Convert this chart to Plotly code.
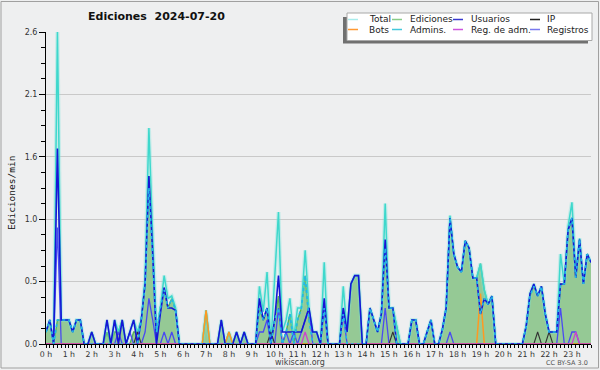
import plotly.graph_objects as go

# ---------------- data (10-minute bins, edits per minute) ----------------
bin_minutes = list(range(0, 1440, 10))          # 00:00 ... 23:50
hour_ticks = list(range(24))
hour_labels = [f"{h} h" for h in hour_ticks]

y_tickvals = [0, 0.52, 1.04, 1.56, 2.08, 2.6]
y_ticktext = ["0.0", "0.5", "1.0", "1.6", "2.1", "2.6"]

total = [
    0.1, 0.2, 0, 2.6, 0.2, 0.2, 0.2, 0.1, 0.2, 0.2, 0, 0,
    0.1, 0, 0, 0, 0.2, 0, 0.2, 0.1, 0.2, 0, 0.1, 0.2,
    0.1, 0.2, 0.55, 1.8, 0.9, 0.1, 0.3, 0.57, 0.38, 0.4, 0.3, 0,
    0, 0, 0, 0, 0, 0, 0.28, 0, 0, 0, 0.2, 0,
    0.1, 0, 0.1, 0, 0.1, 0, 0, 0, 0.48, 0.27, 0.6, 0,
    0.55, 1.1, 0.1, 0.2, 0.38, 0.05, 0.3, 0.3, 0.78, 0.3, 0.1, 0.1,
    0, 0.68, 0, 0, 0, 0, 0.48, 0.1, 0.5, 0.57, 0.57, 0,
    0, 0.3, 0.2, 0.1, 0.25, 1.17, 0.3, 0.3, 0.15, 0, 0, 0,
    0.2, 0.2, 0, 0, 0.1, 0.2, 0, 0, 0.12, 0.3, 1.07, 0.75,
    0.64, 0.6, 0.86, 0.8, 0.55, 0.55, 0.67, 0.45, 0.33, 0.4, 0, 0,
    0, 0, 0, 0, 0, 0, 0.15, 0.42, 0.5, 0.4, 0.48, 0.25,
    0.1, 0.1, 0.1, 0.75, 0.5, 0.98, 1.18, 0.6, 0.88, 0.5, 0.75, 0.68,
]
ediciones = [
    0.1, 0.2, 0, 0.2, 0.2, 0.2, 0.2, 0.1, 0.2, 0.2, 0, 0,
    0.1, 0, 0, 0, 0.1, 0, 0.1, 0.1, 0.2, 0, 0, 0.1,
    0.1, 0.2, 0.5, 1.4, 0.8, 0.1, 0.3, 0.47, 0.3, 0.38, 0.28, 0,
    0, 0, 0, 0, 0, 0, 0.28, 0, 0, 0, 0.2, 0,
    0.1, 0, 0.1, 0, 0.1, 0, 0, 0, 0.3, 0.2, 0.3, 0,
    0.2, 0.4, 0, 0.1, 0.25, 0, 0.2, 0.3, 0.57, 0.2, 0.1, 0.1,
    0, 0.3, 0, 0, 0, 0, 0.3, 0.1, 0.5, 0.57, 0.57, 0,
    0, 0.3, 0.2, 0.1, 0.25, 0.8, 0.3, 0.3, 0.15, 0, 0, 0,
    0.2, 0.2, 0, 0, 0.1, 0.2, 0, 0, 0.12, 0.3, 1.05, 0.75,
    0.64, 0.6, 0.86, 0.8, 0.55, 0.55, 0.67, 0.45, 0.33, 0.4, 0, 0,
    0, 0, 0, 0, 0, 0, 0.15, 0.4, 0.48, 0.4, 0.48, 0.25,
    0.1, 0.1, 0.1, 0.5, 0.5, 0.95, 1.05, 0.55, 0.87, 0.5, 0.75, 0.68,
]
usuarios = [
    0.1, 0.2, 0, 1.63, 0.2, 0.2, 0.2, 0.1, 0.2, 0.2, 0, 0,
    0.1, 0, 0, 0, 0.2, 0, 0.2, 0, 0.2, 0, 0.1, 0.2,
    0, 0.2, 0.5, 1.4, 0.75, 0, 0.25, 0.47, 0.3, 0.3, 0.28, 0,
    0, 0, 0, 0, 0, 0, 0, 0, 0, 0, 0.2, 0,
    0, 0, 0.1, 0, 0.1, 0, 0, 0, 0.38, 0.2, 0.3, 0,
    0.2, 0.57, 0.1, 0.1, 0.1, 0.1, 0.1, 0.1, 0.2, 0.3, 0.1, 0.1,
    0, 0.38, 0, 0, 0, 0, 0.3, 0.1, 0.5, 0.57, 0.57, 0,
    0, 0.3, 0.2, 0.1, 0.25, 0.87, 0.3, 0.3, 0, 0, 0, 0,
    0.2, 0.2, 0, 0, 0.1, 0.2, 0, 0, 0.12, 0.3, 1.05, 0.75,
    0.64, 0.6, 0.86, 0.8, 0.55, 0.55, 0.25, 0.38, 0.33, 0.4, 0, 0,
    0, 0, 0, 0, 0, 0, 0.15, 0.42, 0.5, 0.4, 0.48, 0.25,
    0.1, 0.1, 0.1, 0.5, 0.5, 0.95, 1.05, 0.55, 0.87, 0.5, 0.75, 0.68,
]
admins = [
    0.1, 0.2, 0, 0.2, 0.2, 0.2, 0.2, 0.1, 0.2, 0.2, 0, 0,
    0, 0, 0, 0, 0, 0, 0, 0, 0, 0, 0, 0,
    0, 0.2, 0.5, 1.3, 0.75, 0.1, 0.3, 0.45, 0.3, 0.38, 0.28, 0,
    0, 0, 0, 0, 0, 0, 0, 0, 0, 0, 0, 0,
    0, 0, 0, 0, 0, 0, 0, 0, 0.3, 0.2, 0.3, 0,
    0.2, 0.3, 0, 0.1, 0.25, 0, 0.2, 0.3, 0.57, 0.2, 0, 0,
    0, 0.3, 0, 0, 0, 0, 0.25, 0, 0, 0, 0, 0,
    0, 0.3, 0.2, 0.1, 0.25, 0.8, 0.3, 0.3, 0, 0, 0, 0,
    0.2, 0.2, 0, 0, 0.1, 0.2, 0, 0, 0.12, 0.3, 1.05, 0.75,
    0.64, 0.6, 0.86, 0.8, 0.55, 0.55, 0.25, 0.38, 0.33, 0.4, 0, 0,
    0, 0, 0, 0, 0, 0, 0.15, 0.4, 0.48, 0.4, 0.48, 0.25,
    0.1, 0.1, 0.1, 0.5, 0.5, 0.95, 1.05, 0.55, 0.87, 0.5, 0.75, 0.68,
]
registros = [
    0, 0, 0, 0.97, 0, 0, 0, 0, 0, 0, 0, 0,
    0, 0, 0, 0, 0, 0, 0, 0.1, 0, 0, 0.1, 0,
    0, 0, 0.1, 0.38, 0.2, 0, 0, 0.1, 0, 0.1, 0, 0,
    0, 0, 0, 0, 0, 0, 0, 0, 0, 0, 0, 0,
    0, 0, 0, 0, 0, 0, 0, 0, 0.1, 0.1, 0.2, 0,
    0, 0.3, 0, 0.1, 0, 0.1, 0, 0.1, 0.2, 0.3, 0, 0,
    0, 0.3, 0, 0, 0, 0, 0.25, 0, 0, 0, 0, 0,
    0, 0, 0, 0, 0, 0.3, 0, 0, 0, 0, 0, 0,
    0, 0, 0, 0, 0, 0, 0, 0, 0, 0, 0.1, 0,
    0, 0, 0, 0, 0, 0, 0, 0, 0, 0, 0, 0,
    0, 0, 0, 0, 0, 0, 0, 0, 0, 0, 0, 0,
    0, 0, 0, 0.3, 0, 0, 0.1, 0.1, 0, 0, 0, 0,
]
ip = [
    0, 0, 0, 0, 0, 0, 0, 0, 0, 0, 0, 0,
    0, 0, 0, 0, 0, 0, 0, 0, 0, 0, 0, 0,
    0.1, 0, 0, 0, 0, 0, 0, 0, 0, 0, 0, 0,
    0, 0, 0, 0, 0, 0, 0, 0, 0, 0, 0, 0,
    0, 0, 0, 0, 0, 0, 0, 0, 0, 0, 0, 0.1,
    0, 0, 0, 0, 0, 0, 0, 0, 0, 0, 0, 0,
    0, 0, 0, 0, 0, 0, 0, 0, 0, 0, 0, 0,
    0, 0, 0, 0, 0, 0, 0, 0.1, 0, 0, 0, 0,
    0, 0, 0, 0, 0, 0, 0, 0, 0, 0, 0, 0,
    0, 0, 0, 0, 0, 0, 0, 0, 0, 0, 0, 0,
    0, 0, 0, 0, 0, 0, 0, 0, 0, 0.1, 0, 0,
    0.1, 0, 0, 0, 0, 0, 0, 0, 0, 0, 0, 0,
]
bots_points = {42: 0.28, 48: 0.1, 114: 0.42}
reg_adm_points = {68: 0.1, 139: 0.1}

legend_labels = ["Total", "Ediciones", "Usuarios", "IP",
                 "Bots", "Admins.", "Reg. de adm.", "Registros"]
legend_colors = ["#a8ecec", "#88cc88", "#3838d0", "#222222",
                 "#ff9933", "#44c8dc", "#cc55dd", "#7a7aee"]

# ---------------- figure ----------------
bots = [bots_points.get(i, 0) for i in range(len(bin_minutes))]
reg_adm = [reg_adm_points.get(i, 0) for i in range(len(bin_minutes))]

x = [m / 60 for m in bin_minutes]

W, H = 600, 370
ML, MR, MT, MB = 46, 9, 32, 26
PW, PH = W - ML - MR, H - MT - MB


def px(v):
    return (v - ML) / PW


def py(v):
    return (H - MB - v) / PH


fig = go.Figure()
fig.add_trace(go.Scatter(x=x, y=ediciones, name="Ediciones", mode="lines",
                         fill="tozeroy", fillcolor="#95c995",
                         line=dict(color="#55b455", width=1.4)))
fig.add_trace(go.Scatter(x=x, y=total, name="Total halo", mode="lines",
                         line=dict(color="rgba(120,230,220,0.35)", width=4),
                         hoverinfo="skip"))
fig.add_trace(go.Scatter(x=x, y=total, name="Total", mode="lines",
                         line=dict(color="#3ed8cc", width=1.5)))
fig.add_trace(go.Scatter(x=x, y=registros, name="Registros", mode="lines",
                         line=dict(color="#4a4af2", width=1.3)))
fig.add_trace(go.Scatter(x=x, y=ip, name="IP", mode="lines",
                         line=dict(color="#333333", width=1.1)))
fig.add_trace(go.Scatter(x=x, y=bots, name="Bots", mode="lines",
                         line=dict(color="#ff9922", width=1.5)))
fig.add_trace(go.Scatter(x=x, y=reg_adm, name="Reg. de adm.", mode="lines",
                         line=dict(color="#cc44cc", width=1.3)))
fig.add_trace(go.Scatter(x=x, y=usuarios, name="Usuarios", mode="lines",
                         line=dict(color="#1616d6", width=1.6)))
fig.add_trace(go.Scatter(x=x, y=admins, name="Admins.", mode="lines",
                         line=dict(color="#22b8e6", width=1.7, dash="3px,3px")))

shapes = []
annotations = []

# outer frame
shapes.append(dict(type="rect", xref="paper", yref="paper",
                   x0=px(1), x1=px(598.5), y0=py(1.5), y1=py(368),
                   line=dict(color="#a0a0a0", width=1), layer="below"))

# legend box with shadow
shapes.append(dict(type="rect", xref="paper", yref="paper",
                   x0=px(343), x1=px(588), y0=py(17), y1=py(43.5),
                   fillcolor="#707070", line=dict(width=0)))
shapes.append(dict(type="rect", xref="paper", yref="paper",
                   x0=px(347), x1=px(592), y0=py(13), y1=py(40.5),
                   fillcolor="white", line=dict(color="#a8a8a8", width=1)))
swatch_x = [348, 392, 453, 530]
text_x = [367, 408, 469, 545]
row_y = [19.5, 29.5]
for idx, (lab, col) in enumerate(zip(legend_labels, legend_colors)):
    r, c = divmod(idx, 4)
    shapes.append(dict(type="line", xref="paper", yref="paper",
                       x0=px(swatch_x[c]), x1=px(swatch_x[c] + 10),
                       y0=py(row_y[r]), y1=py(row_y[r]),
                       line=dict(color=col, width=1.5)))
    annotations.append(dict(text=lab, xref="paper", yref="paper",
                            x=px(text_x[c]), y=py(row_y[r]),
                            xanchor="left", yanchor="middle", showarrow=False,
                            font=dict(family="DejaVu Sans", size=9, color="#222")))

# title
annotations.append(dict(text="<b>Ediciones  2024-07-20</b>", xref="paper", yref="paper",
                        x=px(86), y=py(17), xanchor="left", yanchor="middle",
                        showarrow=False,
                        font=dict(family="DejaVu Sans", size=11, color="#111")))
# y-axis title
annotations.append(dict(text="Ediciones/min", xref="paper", yref="paper",
                        x=px(12), y=py(193), xanchor="center", yanchor="middle",
                        textangle=-90, showarrow=False,
                        font=dict(family="DejaVu Sans Mono", size=9.5, color="#111")))
# footer
annotations.append(dict(text="wikiscan.org", xref="paper", yref="paper",
                        x=px(300), y=py(362), xanchor="center", yanchor="middle",
                        showarrow=False,
                        font=dict(family="DejaVu Sans", size=8, color="#444")))
annotations.append(dict(text="CC BY-SA 3.0", xref="paper", yref="paper",
                        x=px(590), y=py(362.5), xanchor="right", yanchor="middle",
                        showarrow=False,
                        font=dict(family="DejaVu Sans", size=6.5, color="#555")))

fig.update_layout(
    width=W, height=H,
    margin=dict(l=ML, r=MR, t=MT, b=MB, pad=0),
    paper_bgcolor="#eeeff0", plot_bgcolor="#eeeff0",
    showlegend=False,
    font=dict(family="DejaVu Sans", size=8, color="#333"),
    shapes=shapes, annotations=annotations,
    xaxis=dict(range=[0, x[-1]], tickmode="array", tickvals=hour_ticks,
               ticktext=hour_labels, ticks="outside", ticklen=3,
               tickcolor="black", tickwidth=1, showline=True,
               linecolor="black", linewidth=1, showgrid=False, zeroline=False,
               tickfont=dict(size=7.8, color="#333"), automargin=False,
               minor=dict(tick0=0, dtick=1 / 6, ticks="outside", ticklen=3,
                          tickcolor="black", showgrid=False)),
    yaxis=dict(range=[0, 2.6], tickmode="array", tickvals=y_tickvals,
               ticktext=y_ticktext, ticks="outside", ticklen=6,
               tickcolor="black", showline=True, linecolor="black",
               linewidth=1, showgrid=True, gridcolor="#c9c9c9", gridwidth=1,
               zeroline=False, tickfont=dict(size=8, color="#333"),
               automargin=False,
               minor=dict(tick0=0, dtick=0.13, ticks="outside", ticklen=4,
                          tickcolor="black", showgrid=False)),
)

fig.write_html("out.html", config={"displayModeBar": False},
               post_script="document.body.style.margin='0';document.body.style.padding='0';")
